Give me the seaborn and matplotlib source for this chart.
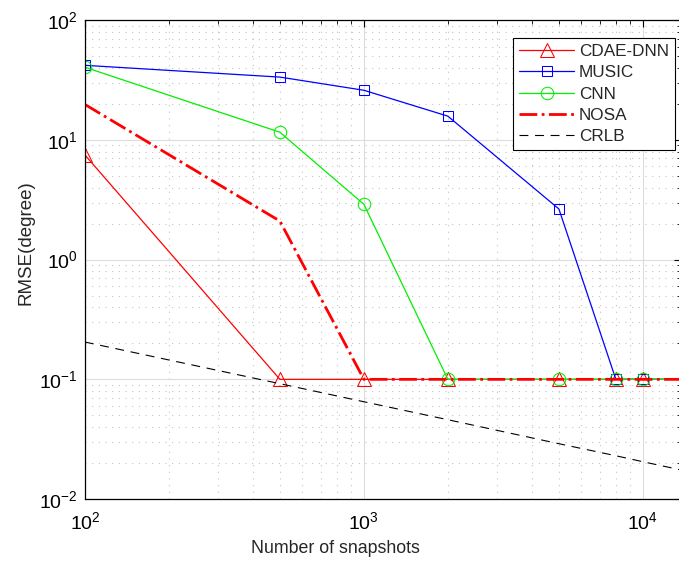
import matplotlib
matplotlib.use("Agg")
import matplotlib.pyplot as plt
import seaborn as sns
import numpy as np
from matplotlib.ticker import LogLocator, NullFormatter

snapshots = [100, 500, 1000, 2000, 5000, 8000, 10000, 20000]
cdae_dnn = [7.5, 0.1, 0.1, 0.1, 0.1, 0.1, 0.1, 0.1]
music = [42.0, 33.5, 26.0, 15.8, 2.65, 0.1, 0.1, 0.1]
cnn = [40.5, 11.6, 2.9, 0.1, 0.1, 0.1, 0.1, 0.1]
nosa = [19.8, 2.1, 0.1, 0.1, 0.1, 0.1, 0.1, 0.1]
crlb = [0.205, 0.092, 0.065, 0.046, 0.029, 0.023, 0.0205, 0.0145]

sns.set_style("white")
plt.rcParams['font.family'] = ['Liberation Sans', 'DejaVu Sans']
plt.rcParams['mathtext.fontset'] = 'custom'
plt.rcParams['mathtext.rm'] = 'Liberation Sans'

fig = plt.figure(figsize=(6.79, 5.62), dpi=100)
ax = fig.add_axes([0.125, 0.112, 0.878, 0.852])

sns.lineplot(x=snapshots, y=cdae_dnn, ax=ax, color='#ff0000', lw=0.9,
             marker='^', markersize=10, markerfacecolor='none', markeredgecolor='#ff0000',
             markevery=list(range(7)), label='CDAE-DNN')
sns.lineplot(x=snapshots, y=music, ax=ax, color='#0000ff', lw=0.9,
             marker='s', markersize=7.5, markerfacecolor='none', markeredgecolor='#0000ff',
             markevery=list(range(7)), label='MUSIC')
sns.lineplot(x=snapshots, y=cnn, ax=ax, color='#00f000', lw=0.9,
             marker='o', markersize=9, markerfacecolor='none', markeredgecolor='#00f000',
             markevery=list(range(7)), label='CNN')
sns.lineplot(x=snapshots, y=nosa, ax=ax, color='#ff0000', lw=2.0, linestyle='-.',
             label='NOSA')
sns.lineplot(x=snapshots, y=crlb, ax=ax, color='black', lw=0.8, linestyle='--',
             label='CRLB')
ax.lines[-1].set_dashes([8, 6])

ax.set_xscale('log')
ax.set_yscale('log')
ax.set_xlim(100, 13700)
ax.set_ylim(1e-2, 1e2)

ax.xaxis.set_major_locator(LogLocator(base=10, numticks=10))
ax.xaxis.set_minor_locator(LogLocator(base=10, subs=np.arange(2, 10), numticks=20))
ax.yaxis.set_major_locator(LogLocator(base=10, numticks=10))
ax.yaxis.set_minor_locator(LogLocator(base=10, subs=np.arange(2, 10), numticks=20))
ax.xaxis.set_minor_formatter(NullFormatter())
ax.yaxis.set_minor_formatter(NullFormatter())

ax.grid(True, which='major', color='#dcdcdc', lw=0.8, linestyle='-')
ax.grid(True, which='minor', color='#c4c4c4', lw=0.8, linestyle=(0, (1, 5)))
ax.set_axisbelow(True)

ax.tick_params(which='both', direction='in', top=True, right=True, labelsize=14, colors='black')
ax.tick_params(which='major', length=5, width=0.8)
ax.tick_params(which='minor', length=3, width=0.6)
ax.tick_params(axis='x', pad=9)
ax.tick_params(axis='y', pad=5)
for s in ax.spines.values():
    s.set_color('black')
    s.set_linewidth(0.9)

ax.set_xlabel('Number of snapshots', fontsize=12.8)
ax.set_ylabel('RMSE(degree)', fontsize=13.5)
ax.xaxis.set_label_coords(0.421, -0.085)
ax.yaxis.set_label_coords(-0.085, 0.535)

leg = ax.legend(loc='upper right', bbox_to_anchor=(0.990, 0.963), fontsize=12.3,
                frameon=True, fancybox=False, edgecolor='black', framealpha=1,
                handlelength=3.2, borderpad=0.35, labelspacing=0.37, handletextpad=0.3,
                borderaxespad=0.0)
leg.get_frame().set_linewidth(0.8)

fig.savefig('out.png', dpi=100)
